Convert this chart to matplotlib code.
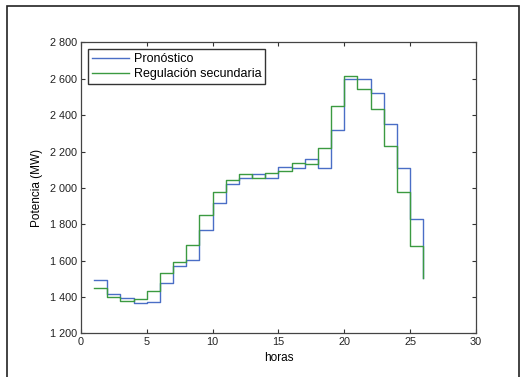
import matplotlib

matplotlib.use("Agg")
import matplotlib.pyplot as plt
from matplotlib.patches import Rectangle
from matplotlib.ticker import FuncFormatter

plt.rcParams["font.family"] = ["Liberation Sans", "DejaVu Sans"]

horas = list(range(1, 27))
pronostico = [1492, 1418, 1394, 1366, 1372, 1478, 1568, 1605, 1768, 1915,
              2020, 2055, 2078, 2055, 2113, 2111, 2158, 2111, 2320, 2598,
              2600, 2520, 2353, 2110, 1829, 1505]
regulacion = [1447, 1401, 1378, 1386, 1433, 1530, 1590, 1688, 1849, 1975,
              2045, 2078, 2055, 2083, 2093, 2138, 2132, 2218, 2450, 2618,
              2546, 2432, 2232, 1975, 1680, 1505]

fig = plt.figure(figsize=(5.28, 3.77), dpi=100)
ax = fig.add_axes([0.1534, 0.1159, 0.7481, 0.7714])

# outer frame of the original figure (bottom edge is cropped off)
fig.patches.append(Rectangle((7 / 528, -0.05), (519 - 7) / 528, 1.05 - 6 / 377,
                             transform=fig.transFigure, fill=False,
                             edgecolor="#222222", linewidth=1.2))

ax.step(horas, pronostico, where="post", color="#4a6ec6", linewidth=1.0,
        label="Pronóstico")
ax.step(horas, regulacion, where="post", color="#3b9a41", linewidth=1.0,
        label="Regulación secundaria")

ax.set_xlim(0, 30)
ax.set_ylim(1200, 2800)
ax.set_xticks(range(0, 31, 5))
ax.set_yticks(range(1200, 2801, 200))
ax.yaxis.set_major_formatter(FuncFormatter(lambda v, _: f"{int(v):,}".replace(",", " ")))
ax.tick_params(direction="in", top=True, right=True, length=3, width=0.8,
               labelsize=7.8, colors="#333333", labelcolor="#222222", pad=3)
for spine in ax.spines.values():
    spine.set_color("#444444")
    spine.set_linewidth(0.9)

ax.set_xlabel("horas", fontsize=8.5, labelpad=3)
ax.set_ylabel("Potencia (MW)", fontsize=8.5, labelpad=5)

leg = ax.legend(loc="upper left", fontsize=9, frameon=True, fancybox=False,
                borderpad=0.3, handlelength=3.0, handletextpad=0.4,
                labelspacing=0.25, borderaxespad=0.55)
leg.get_frame().set_edgecolor("black")
leg.get_frame().set_linewidth(1.0)

fig.savefig("out.png", dpi=100)
